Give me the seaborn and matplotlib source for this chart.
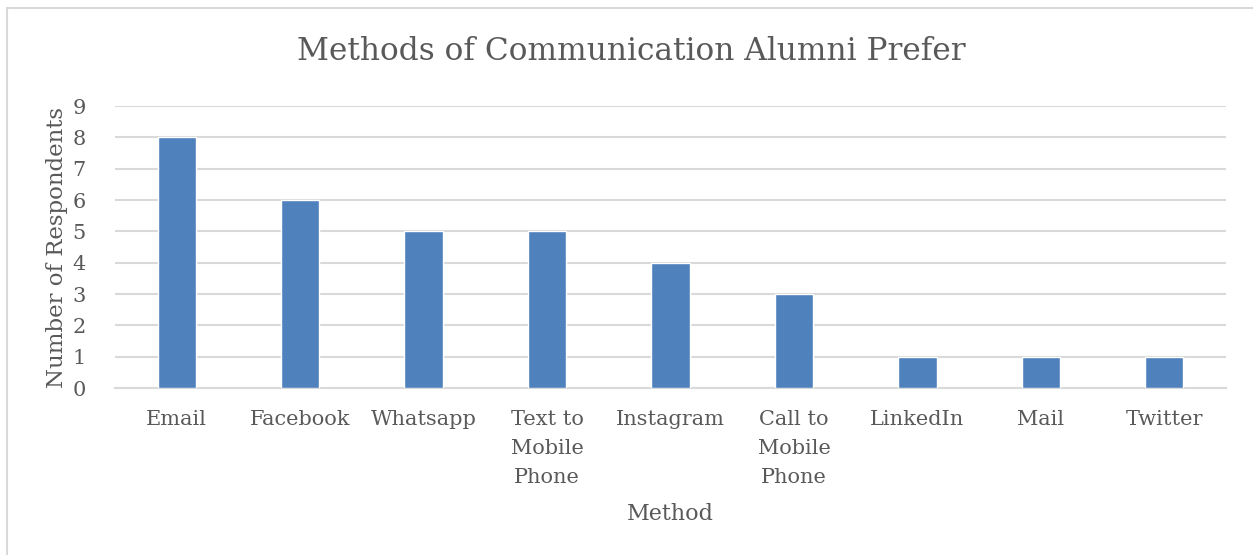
import matplotlib
matplotlib.use("Agg")
import matplotlib.pyplot as plt
import seaborn as sns
import pandas as pd
from matplotlib.patches import Rectangle

categories = ["Email", "Facebook", "Whatsapp", "Text to\nMobile\nPhone", "Instagram",
              "Call to\nMobile\nPhone", "LinkedIn", "Mail", "Twitter"]
values = [8, 6, 5, 5, 4, 3, 1, 1, 1]
yticks = list(range(0, 10))

sns.set_theme(style="white")
plt.rcParams['font.family'] = ['DejaVu Serif', 'Liberation Serif']

text_col = "#595959"
grid_col = "#D9D9D9"
bar_col = "#4F81BD"

fig = plt.figure(figsize=(12.53, 5.55), dpi=100)
ax = fig.add_axes([115/1253, 1-388/555, (1226-115)/1253, (388-106)/555])

df = pd.DataFrame({"Method": categories, "Count": values})
sns.barplot(data=df, x="Method", y="Count", color=bar_col, saturation=1,
            width=0.31, ax=ax, zorder=3)

ax.set_ylim(0, 9)
ax.set_yticks(yticks)
ax.set_yticklabels([str(t) for t in yticks], fontsize=15, color=text_col)
ax.yaxis.grid(True, color=grid_col, linewidth=1.5, zorder=0)
ax.set_axisbelow(True)
for s in ["top", "right", "left"]:
    ax.spines[s].set_visible(False)
ax.spines["bottom"].set_color(grid_col)
ax.spines["bottom"].set_linewidth(1.5)
ax.tick_params(axis="x", length=0, pad=16)
ax.tick_params(axis="y", length=0, pad=21)
for lbl in ax.get_xticklabels():
    lbl.set_fontsize(15)
    lbl.set_color(text_col)
    lbl.set_linespacing(1.65)

ax.set_xlabel("Method", fontsize=16, color=text_col, labelpad=12)
ax.set_ylabel("Number of Respondents", fontsize=16.5, color=text_col, labelpad=3)
fig.text(631/1253, 1-52/555, "Methods of Communication Alumni Prefer",
         ha="center", va="center", fontsize=22.5, color=text_col)

fig.patches.append(Rectangle((7/1253, -0.1), 1.1, 1-8/555+0.1, transform=fig.transFigure,
                             fill=False, edgecolor=grid_col, linewidth=1.5))

fig.savefig("out.png", dpi=100)
